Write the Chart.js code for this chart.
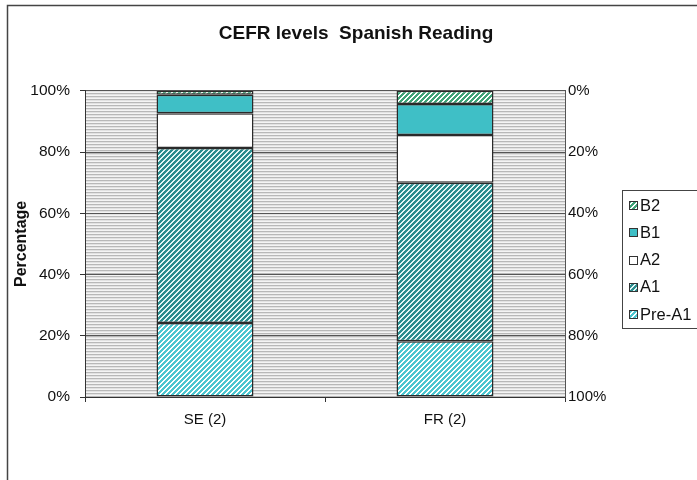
<!DOCTYPE html>
<html>
<head>
<meta charset="utf-8">
<script src="https://cdn.jsdelivr.net/npm/chart.js@4/dist/chart.umd.min.js"></script>
<style>
html,body{margin:0;padding:0;background:#fff;}
#wrap{width:697px;height:480px;position:relative;}
</style>
</head>
<body>
<div id="wrap"><canvas id="c" width="697" height="480"></canvas></div>
<script>
// ---- data ----
const categories = ['SE (2)', 'FR (2)'];
const levelLabels = ['Pre-A1', 'A1', 'A2', 'B1', 'B2'];
const preA1 = [24.2, 18.2];
const a1 = [57.1, 51.8];
const a2 = [11.4, 15.6];
const b1 = [6.0, 10.1];
const b2 = [1.3, 4.3];
const leftTicks = [0, 20, 40, 60, 80, 100];
const chartTitle = 'CEFR levels  Spanish Reading';
const yTitle = 'Percentage';

// ---- patterns ----
function stripePattern(fg, bg, period, width) {
  const c = document.createElement('canvas');
  c.width = period; c.height = period;
  const x = c.getContext('2d');
  x.fillStyle = bg; x.fillRect(0, 0, period, period);
  x.fillStyle = fg;
  for (let i = 0; i < period; i++) {
    for (let j = 0; j < period; j++) {
      if (((i + j) % period) < width) x.fillRect(i, j, 1, 1);
    }
  }
  return x.createPattern(c, 'repeat');
}
function hStripes() {
  const c = document.createElement('canvas');
  c.width = 4; c.height = 3;
  const x = c.getContext('2d');
  const cols = ['#b8b8b8', '#e2e2e2', '#f4f4f4'];
  cols.forEach((col, i) => { x.fillStyle = col; x.fillRect(0, i, 4, 1); });
  return x.createPattern(c, 'repeat');
}
const patPre = stripePattern('#4cc6cf', '#ffffff', 5, 3);
const patA1 = stripePattern('#2a8d8e', '#e4f6f6', 5, 3);
const patB2 = stripePattern('#3da377', '#ffffff', 5, 3);
const plotBg = hStripes();

const seriesValues = [preA1, a1, a2, b1, b2];
const fills = [patPre, patA1, '#ffffff', '#3fbfc6', patB2];

const datasets = levelLabels.map((lab, i) => ({
  label: lab,
  data: seriesValues[i],
  backgroundColor: fills[i],
  borderColor: '#2a2a2a',
  borderWidth: 1.5,
  borderSkipped: false,
  barPercentage: 0.404,
  categoryPercentage: 1.0
}));

const FONT = "'Liberation Sans', Arial, sans-serif";

const framePlugin = {
  id: 'frame',
  beforeDraw(chart) {
    const c = chart.ctx;
    c.save();
    c.fillStyle = '#ffffff';
    c.fillRect(0, 0, chart.width, chart.height);
    const a = chart.chartArea;
    c.fillStyle = plotBg;
    c.fillRect(a.left, a.top, a.right - a.left, a.bottom - a.top);
    c.strokeStyle = '#444';
    c.lineWidth = 1.5;
    c.beginPath();
    c.moveTo(7.5, chart.height + 2);
    c.lineTo(7.5, 5.5);
    c.lineTo(chart.width + 2, 5.5);
    c.stroke();
    c.restore();
  }
};

const legendPlugin = {
  id: 'customLegend',
  afterDraw(chart) {
    const c = chart.ctx;
    c.save();
    const bx = 622.5, by = 190.5, bw = 90, bh = 138;
    c.strokeStyle = '#444';
    c.lineWidth = 1;
    c.fillStyle = '#fff';
    c.fillRect(bx, by, bw, bh);
    c.strokeRect(bx, by, bw, bh);
    c.font = '16.5px ' + FONT;
    c.textBaseline = 'middle';
    c.textAlign = 'left';
    const ds = chart.data.datasets.slice().reverse();
    ds.forEach((d, i) => {
      const cy = 205 + i * 27.3;
      c.fillStyle = d.backgroundColor;
      c.fillRect(629, Math.round(cy - 4), 9, 9);
      c.strokeStyle = '#333';
      c.strokeRect(629.5, Math.round(cy - 4) + 0.5, 8, 8);
      c.fillStyle = '#111';
      c.fillText(d.label, 640, cy + 1);
    });
    c.restore();
  }
};

new Chart(document.getElementById('c'), {
  type: 'bar',
  data: { labels: categories, datasets },
  plugins: [framePlugin, legendPlugin],
  options: {
    responsive: false,
    animation: false,
    devicePixelRatio: 1,
    layout: { padding: { left: 15, right: 0, top: 0, bottom: 0 } },
    plugins: {
      legend: { display: false },
      tooltip: { enabled: false },
      title: {
        display: true,
        text: chartTitle,
        color: '#111',
        font: { family: FONT, size: 19, weight: 'bold' },
        padding: { top: 22, bottom: 46 }
      }
    },
    scales: {
      x: {
        stacked: true,
        offset: true,
        grid: { display: true, drawOnChartArea: false, drawTicks: true, tickLength: 5, color: '#333', offset: true },
        border: { display: true, color: '#333', width: 1 },
        ticks: { color: '#111', font: { family: FONT, size: 15 }, padding: 9, maxRotation: 0 },
        afterFit(s) { s.height = 83; }
      },
      y: {
        stacked: true,
        position: 'left',
        min: 0, max: 100,
        afterBuildTicks(s) { s.ticks = leftTicks.map(v => ({ value: v })); },
        grid: { color: '#555', lineWidth: 1, tickLength: 5, tickColor: '#333' },
        border: { display: true, color: '#333', width: 1 },
        ticks: { color: '#111', font: { family: FONT, size: 15.5 }, padding: 10, callback: v => v + '%' },
        title: { display: true, text: yTitle, color: '#111', font: { family: FONT, size: 16, weight: 'bold' }, padding: { top: -3, bottom: 0 } },
        afterFit(s) { s.width = 70; }
      },
      y2: {
        position: 'right',
        min: 0, max: 100,
        reverse: true,
        afterBuildTicks(s) { s.ticks = leftTicks.map(v => ({ value: v })); },
        grid: { drawOnChartArea: false, drawTicks: false },
        border: { display: true, color: '#555', width: 1 },
        ticks: { color: '#111', font: { family: FONT, size: 15 }, padding: 3, callback: v => v + '%' },
        afterFit(s) { s.width = 132; }
      }
    }
  }
});
</script>
</body>
</html>
